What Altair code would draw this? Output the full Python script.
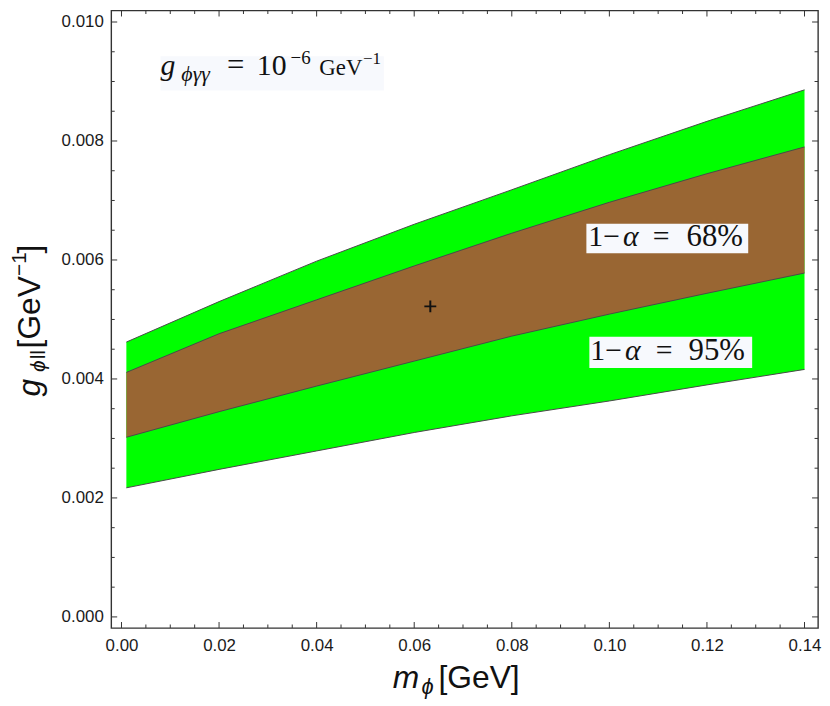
import altair as alt
import pandas as pd

# ---- data ----
m_phi   = [0.001, 0.02, 0.04, 0.06, 0.08, 0.10, 0.12, 0.14]
upper95 = [0.00462, 0.00530, 0.00598, 0.00660, 0.00718, 0.00777, 0.00833, 0.00886]
upper68 = [0.00411, 0.00476, 0.00533, 0.00590, 0.00645, 0.00697, 0.00745, 0.00790]
lower68 = [0.00302, 0.00345, 0.00388, 0.00430, 0.00472, 0.00509, 0.00544, 0.00578]
lower95 = [0.00217, 0.00248, 0.00279, 0.00310, 0.00338, 0.00363, 0.00390, 0.00416]
best_m = [0.0633]
best_g = [0.00522]

x_major = [0.00, 0.02, 0.04, 0.06, 0.08, 0.10, 0.12, 0.14]
x_minor = [0.005, 0.01, 0.015, 0.025, 0.03, 0.035, 0.045, 0.05, 0.055, 0.065, 0.07,
           0.075, 0.085, 0.09, 0.095, 0.105, 0.11, 0.115, 0.125, 0.13, 0.135]
y_major = [0.000, 0.002, 0.004, 0.006, 0.008, 0.010]
y_minor = [0.0005, 0.001, 0.0015, 0.0025, 0.003, 0.0035, 0.0045, 0.005, 0.0055,
           0.0065, 0.007, 0.0075, 0.0085, 0.009, 0.0095]

# ---- layout / style ----
W, H = 712, 622
XD = [-0.0021, 0.14277]
YD = [-0.000186, 0.010193]
xs = alt.Scale(domain=XD, nice=False, zero=False)
ys = alt.Scale(domain=YD, nice=False, zero=False)
SANS = "Liberation Sans"
SERIF = "Liberation Serif"
TICK_COLOR = "#333333"

x_axis = alt.Axis(values=x_major, format=".2f", ticks=False, domain=False, grid=False,
                  labelFont=SANS, labelFontSize=17, labelColor="#1a1a1a",
                  labelPadding=10, labelFlush=False, labelOverlap=False, title="")
y_axis = alt.Axis(values=y_major, format=".3f", ticks=False, domain=False, grid=False,
                  labelFont=SANS, labelFontSize=17, labelColor="#1a1a1a",
                  labelPadding=8, labelOverlap=False, title="")


def X(field):
    return alt.X(field, scale=xs, axis=x_axis)


def Y(field):
    return alt.Y(field, scale=ys, axis=y_axis)


band = pd.DataFrame({"m": m_phi, "lo95": lower95, "hi95": upper95,
                     "lo68": lower68, "hi68": upper68})

green = alt.Chart(band).mark_area(color="#00ff00", opacity=1).encode(
    x=X("m:Q"), y=Y("hi95:Q"), y2="lo95:Q",
)
brown = alt.Chart(band).mark_area(color="#996633", opacity=1).encode(
    x=X("m:Q"), y=Y("hi68:Q"), y2="lo68:Q",
)

n = len(m_phi)
curves = pd.DataFrame({
    "m": m_phi * 4,
    "g": upper95 + upper68 + lower68 + lower95,
    "curve": ["u95"] * n + ["u68"] * n + ["l68"] * n + ["l95"] * n,
})
lines = alt.Chart(curves).mark_line(color="#4a4a4a", strokeWidth=1).encode(
    x=X("m:Q"), y=Y("g:Q"), detail="curve:N",
)

best = alt.Chart(pd.DataFrame({"m": best_m, "g": best_g})).mark_point(
    shape="M-1,0H1M0,-1V1", filled=False, color="#111111", strokeWidth=2, size=144, opacity=1
).encode(x=X("m:Q"), y=Y("g:Q"))

# label boxes (data units)
boxes = pd.DataFrame({
    "x": [0.00799, 0.09529, 0.09590],
    "x2": [0.05378, 0.12846, 0.12927],
    "y": [0.008849, 0.006112, 0.004183],
    "y2": [0.009426, 0.006607, 0.004711],
})
box_layer = alt.Chart(boxes).mark_rect(color="#f7f9fd", opacity=1).encode(
    x=X("x:Q"), x2="x2:Q", y=Y("y:Q"), y2="y2:Q",
)

# text pieces: text, x, y, size, font, style, angle
pieces = [
    # top annotation
    ("g", 0.00799, 0.009101, 30, SERIF, "italic", 0),
    ("ϕγγ", 0.01227, 0.009014, 22, SERIF, "italic", 0),
    ("=", 0.02163, 0.009101, 31, SERIF, "normal", 0),
    ("10", 0.02773, 0.009101, 30, SERIF, "normal", 0),
    ("−6", 0.03465, 0.009294, 19, SERIF, "normal", 0),
    ("GeV", 0.04055, 0.009101, 23, SERIF, "normal", 0),
    ("−1", 0.04950, 0.009294, 17, SERIF, "normal", 0),
    # 68 %
    ("1−", 0.09569, 0.006232, 30, SERIF, "normal", 0),
    ("α", 0.10280, 0.006232, 30, SERIF, "italic", 0),
    ("=", 0.10891, 0.006232, 30, SERIF, "normal", 0),
    ("68%", 0.11583, 0.006232, 31, SERIF, "normal", 0),
    # 95 %
    ("1−", 0.09610, 0.004320, 30, SERIF, "normal", 0),
    ("α", 0.10321, 0.004320, 30, SERIF, "italic", 0),
    ("=", 0.10952, 0.004320, 30, SERIF, "normal", 0),
    ("95%", 0.11624, 0.004320, 31, SERIF, "normal", 0),
    # x title
    ("m", 0.05561, -0.001187, 32, SANS, "italic", 0),
    ("ϕ", 0.06151, -0.001304, 22, SANS, "italic", 0),
    ("[GeV]", 0.06497, -0.001187, 32, SANS, "normal", 0),
    # y title (rotated)
    ("g", -0.016623, 0.003705, 32, SANS, "italic", 270),
    ("ϕ", -0.015606, 0.004117, 21, SANS, "italic", 270),
    ("ll", -0.015606, 0.004331, 21, SANS, "normal", 270),
    ("[GeV", -0.016623, 0.004513, 32, SANS, "normal", 270),
    ("−1", -0.019471, 0.005731, 21, SANS, "normal", 270),
    ("]", -0.016623, 0.006110, 32, SANS, "normal", 270),
]
pdf = pd.DataFrame(pieces, columns=["t", "x", "y", "size", "font", "style", "angle"])
text_layers = []
for (font, style, angle), grp in pdf.groupby(["font", "style", "angle"]):
    text_layers.append(
        alt.Chart(grp.reset_index(drop=True)).mark_text(
            font=font, fontStyle=style, angle=int(angle), align="left",
            baseline="alphabetic", color="#111111"
        ).encode(
            x=X("x:Q"), y=Y("y:Q"), text="t:N",
            size=alt.Size("size:Q", scale=None, legend=None),
        )
    )


def tick_layer(vals, channel, side, length):
    df = pd.DataFrame({"v": vals})
    base = alt.Chart(df).mark_rule(color=TICK_COLOR, strokeWidth=1)
    if channel == "x":
        enc = dict(x=X("v:Q"))
        if side == "bottom":
            enc.update(y=alt.value(H), y2=alt.value(H - length))
        else:
            enc.update(y=alt.value(0), y2=alt.value(length))
    else:
        enc = dict(y=Y("v:Q"))
        if side == "left":
            enc.update(x=alt.value(0), x2=alt.value(length))
        else:
            enc.update(x=alt.value(W), x2=alt.value(W - length))
    return base.encode(**enc)


ticks = []
for side in ["bottom", "top"]:
    ticks.append(tick_layer(x_major, "x", side, 6))
    ticks.append(tick_layer(x_minor, "x", side, 3.5))
for side in ["left", "right"]:
    ticks.append(tick_layer(y_major, "y", side, 6))
    ticks.append(tick_layer(y_minor, "y", side, 3.5))

chart = alt.layer(
    green, brown, lines, best, box_layer, *text_layers, *ticks
).properties(
    width=W, height=H,
    padding={"left": 104, "top": 0, "right": 4, "bottom": 70},
    autosize=alt.AutoSizeParams(type="none"),
    background="white",
).configure_view(
    stroke="#333333", strokeWidth=1.4
)

chart.save("out.html", embed_options={"renderer": "svg", "actions": False})
